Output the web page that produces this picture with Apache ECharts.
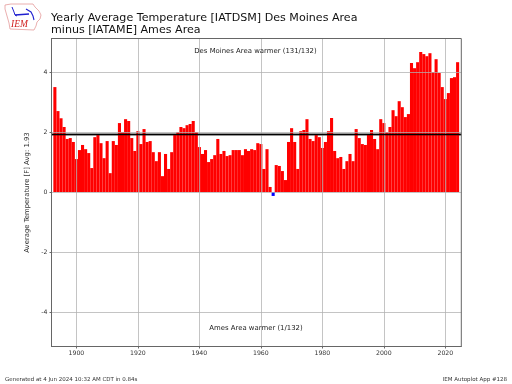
<!DOCTYPE html>
<html>
<head>
<meta charset="utf-8">
<style>html,body{margin:0;padding:0;background:#fff}#c{width:512px;height:384px}</style>
<script src="https://cdn.jsdelivr.net/npm/echarts@6/dist/echarts.min.js"></script>
</head>
<body>
<div id="c"></div>
<script>
const firstYear = 1893;
const diffs = [3.5,2.7,2.46,2.17,1.77,1.8,1.67,1.1,1.4,1.57,1.43,1.3,0.8,1.83,1.9,1.63,1.13,1.7,0.63,1.7,1.57,2.3,2.0,2.43,2.37,1.8,1.37,2.03,1.6,2.1,1.67,1.7,1.33,1.03,1.33,0.53,1.27,0.77,1.33,1.9,2.0,2.17,2.13,2.23,2.27,2.37,2.0,1.5,1.27,1.4,1.0,1.1,1.23,1.77,1.27,1.37,1.2,1.23,1.4,1.4,1.4,1.23,1.43,1.37,1.43,1.4,1.63,1.6,0.77,1.43,0.17,-0.13,0.9,0.87,0.7,0.4,1.67,2.13,1.67,0.77,2.03,2.07,2.43,1.77,1.7,1.9,1.83,1.47,1.67,2.03,2.47,1.37,1.13,1.17,0.77,1.03,1.27,1.03,2.1,1.8,1.6,1.57,1.93,2.07,1.77,1.43,2.43,2.3,2.0,2.17,2.73,2.53,3.03,2.83,2.5,2.6,4.3,4.13,4.33,4.67,4.6,4.53,4.63,4.0,4.43,3.97,3.5,3.1,3.3,3.8,3.83,4.33];
const xTicks = [1900,1920,1940,1960,1980,2000,2020];
const yTicks = [-4,-2,0,2,4];
const average = 1.93;
const titleLines = 'Yearly Average Temperature [IATDSM] Des Moines Area\nminus [IATAME] Ames Area';
const topNote = 'Des Moines Area warmer (131/132)';
const bottomNote = 'Ames Area warmer (1/132)';
const yLabel = 'Average Temperature [F] Avg: 1.93';
const footLeft = 'Generated at 4 Jun 2024 10:32 AM CDT in 0.84s';
const footRight = 'IEM Autoplot App #128';

const barData = diffs.map((v,i)=>[firstYear+i,v]);
const font = 'DejaVu Sans';
const gridLine = {show:true,lineStyle:{color:'rgba(176,176,176,0.75)',width:1}};
const tick = {show:true,length:2,lineStyle:{color:'#444',width:0.8}};
const chart = echarts.init(document.getElementById('c'),null,{renderer:'canvas'});
chart.setOption({
  animation:false,
  backgroundColor:'#fff',
  grid:{show:true,backgroundColor:'transparent',borderColor:'#666',borderWidth:1,left:51.5,right:50.7,top:38.5,bottom:37.5,z:6},
  xAxis:{type:'value',min:1891.9,max:2025.2,z:3,
    axisLine:{show:true,onZero:false,lineStyle:{color:'#666',width:1}},
    axisTick:Object.assign({},tick,{customValues:xTicks}),
    axisLabel:{customValues:xTicks,color:'#333',fontFamily:font,fontSize:6.2,margin:4,showMinLabel:true,showMaxLabel:true,formatter:v=>String(v)},
    splitLine:Object.assign({},gridLine,{customValues:xTicks})},
  yAxis:{type:'value',min:-5.15,max:5.12,z:3,
    name:yLabel,nameLocation:'middle',nameGap:19,nameTextStyle:{color:'#333',fontFamily:font,fontSize:6.9},
    axisLine:{show:true,onZero:false,lineStyle:{color:'#666',width:1}},
    axisTick:Object.assign({},tick,{customValues:yTicks}),
    axisLabel:{customValues:yTicks,color:'#333',fontFamily:font,fontSize:6.2,margin:4,formatter:v=>String(v)},
    splitLine:Object.assign({},gridLine,{customValues:yTicks})},
  series:[
    {type:'bar',z:2,barWidth:'100%',data:barData,
     itemStyle:{color:p=>p.value[1]<0?'#0000ff':'#ff0000'}},
    {type:'line',z:1,silent:true,symbol:'none',data:[],
     markLine:{silent:true,symbol:'none',label:{show:false},z:1,
       lineStyle:{color:'#c8c8c8',width:3,type:'solid'},data:[{yAxis:average}]}},
    {type:'line',z:5,silent:true,symbol:'none',data:[],
     markLine:{silent:true,symbol:'none',label:{show:false},z:5,
       lineStyle:{color:'#000',width:1.4,type:'solid'},data:[{yAxis:average}]}}
  ],
  graphic:[
    {type:'text',z:10,style:{text:titleLines,x:51,y:12,fill:'#111',font:'11.1px "DejaVu Sans"',lineHeight:12}},
    {type:'text',z:10,style:{text:topNote,x:255.5,y:51.5,fill:'#222',align:'center',verticalAlign:'middle',font:'6.9px "DejaVu Sans"'}},
    {type:'text',z:10,style:{text:bottomNote,x:256,y:328.5,fill:'#222',align:'center',verticalAlign:'middle',font:'6.9px "DejaVu Sans"'}},
    {type:'text',z:10,style:{text:footLeft,x:5,y:379.5,fill:'#333',verticalAlign:'middle',font:'5.5px "DejaVu Sans"'}},
    {type:'text',z:10,style:{text:footRight,x:507,y:379.5,fill:'#333',align:'right',verticalAlign:'middle',font:'5.5px "DejaVu Sans"'}},
    {type:'polyline',z:10,shape:{points:[[5,5],[11,4],[33,4],[35,7],[39,11],[41,15],[40,19],[37,22],[36,26],[34,30],[10,29],[9,23],[7,16],[5,9],[5,5]]},style:{fill:'#fff',stroke:'#e49a9a',lineWidth:0.8}},
    {type:'polyline',z:11,shape:{points:[[15,15],[29,14]]},style:{fill:'none',stroke:'#2020d0',lineWidth:1.4}},
    {type:'polyline',z:11,shape:{points:[[12,7],[14,12],[15,15],[17,16]]},style:{fill:'none',stroke:'#2020d0',lineWidth:1}},
    {type:'polyline',z:11,shape:{points:[[26,9],[31,12],[33,16],[34,20]]},style:{fill:'none',stroke:'#2020d0',lineWidth:1.1}},
    {type:'text',z:11,style:{text:'IEM',x:11,y:24,fill:'#d02020',verticalAlign:'middle',font:'italic 9.5px "Liberation Serif"'}}
  ]
});
</script>
</body>
</html>
